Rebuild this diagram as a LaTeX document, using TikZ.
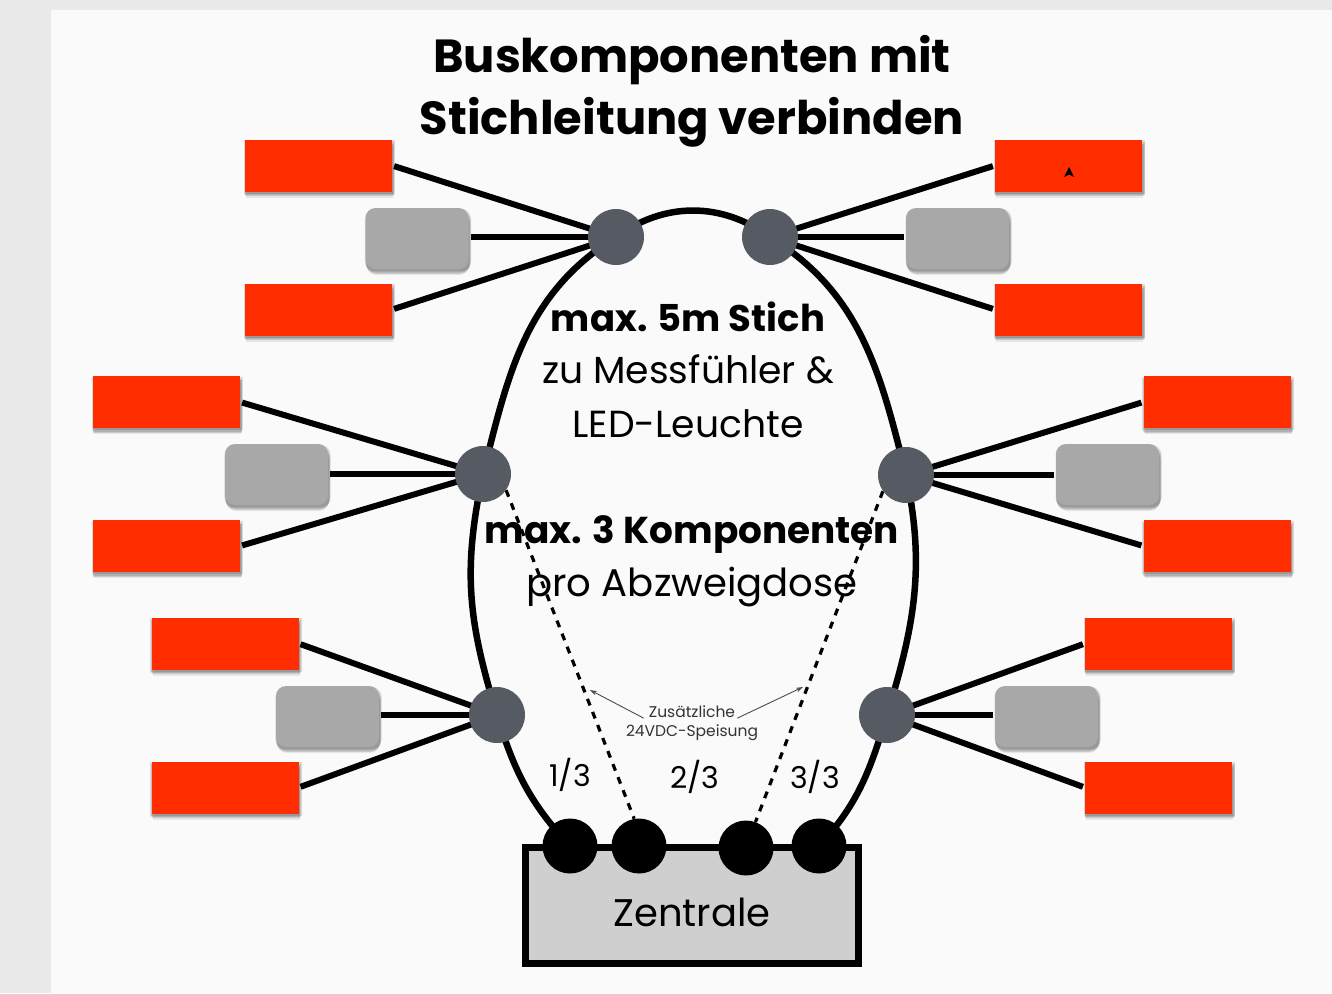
\documentclass[tikz,border=0pt]{standalone}
\usepackage{fontspec}
\setmainfont{Poppins}
\usetikzlibrary{shadows,arrows.meta,backgrounds}
\definecolor{redbox}{HTML}{FF2D00}
\definecolor{greybox}{HTML}{A8A8A8}
\definecolor{hubcol}{HTML}{565A63}
\definecolor{panel}{HTML}{FAFAFA}
\definecolor{outer}{HTML}{E9E9E9}
\definecolor{zent}{HTML}{CFCFCF}
\newcommand{\fs}[1]{\fontsize{#1}{#1}\selectfont}
\tikzset{
  x=1pt,y=-1pt,
  shade1/.style={
    drop shadow={shadow xshift=1pt,shadow yshift=-1.5pt,opacity=.12,fill=black,shadow scale=1.03},
    drop shadow={shadow xshift=1pt,shadow yshift=-3pt,opacity=.12,fill=black,shadow scale=1.02},
    drop shadow={shadow xshift=1pt,shadow yshift=-4.5pt,opacity=.12,fill=black,shadow scale=1.01},
    drop shadow={shadow xshift=1pt,shadow yshift=-6pt,opacity=.08,fill=black,shadow scale=1.0}},
  redb/.style={fill=redbox,minimum width=147pt,minimum height=52pt,inner sep=0,shade1},
  greyb/.style={fill=greybox,rounded corners=10pt,minimum width=103pt,minimum height=61pt,inner sep=0,shade1},
  hub/.style={circle,fill=hubcol,minimum size=56pt,inner sep=0},
  port/.style={circle,fill=black,minimum size=55pt,inner sep=0},
  stub/.style={line width=6pt,shorten >=2pt},
  bus/.style={line width=6.5pt},
  extra/.style={line width=3.2pt,dash pattern=on 7pt off 7pt},
  note/.style={line width=.9pt,draw=black!70,-{Stealth[length=7pt,width=4.5pt]}},
  txt/.style={inner sep=0,text=black,align=center},
}
\begin{document}
\begin{tikzpicture}
\useasboundingbox (0,0) rectangle (1332,993);

\node[redb] (r1) at (318.5,165.5) {};
\node[greyb] (g1) at (417,238.5) {};
\node[redb] (r2) at (318.5,309.5) {};
\node[redb] (r3) at (166.5,402) {};
\node[greyb] (g2) at (276.5,474.5) {};
\node[redb] (r4) at (166.5,546) {};
\node[redb] (r5) at (225,643.5) {};
\node[greyb] (g3) at (327.5,716.5) {};
\node[redb] (r6) at (225,787.5) {};
\node[redb] (r7) at (1068.5,165.5) {};
\node[greyb] (g4) at (957.5,238.5) {};
\node[redb] (r8) at (1068.5,309.5) {};
\node[redb] (r9) at (1217,402) {};
\node[greyb] (g5) at (1107.5,474.5) {};
\node[redb] (r10) at (1217,546) {};
\node[redb] (r11) at (1158.5,643.5) {};
\node[greyb] (g6) at (1046.5,716.5) {};
\node[redb] (r12) at (1158.5,787.5) {};

\node[draw=black,line width=6.5pt,fill=zent,minimum width=333pt,minimum height=116pt,inner sep=0] (zb) at (692,905.5) {};

\node[hub] (H1) at (616,237) {};
\node[hub] (H2) at (483,474) {};
\node[hub] (H3) at (497,715) {};
\node[hub] (H4) at (770,237) {};
\node[hub] (H5) at (906,475) {};
\node[hub] (H6) at (887,715) {};
\node[port] (P1) at (570,846) {};
\node[port] (P2) at (639,846) {};
\node[port] (P3) at (746,848) {};
\node[port] (P4) at (819,846) {};

\begin{pgfonlayer}{background}
\fill[outer] (0,0) rectangle (1332,993);
\fill[panel] (51,10) rectangle (1332,993);
\draw[bus] (P1.center) to[out=133,in=-73] (H3.center) to[out=107,in=-102,looseness=1.05] (H2.center)
  to[out=76,in=-148] (H1.center) to[out=36,in=144] (H4.center) to[out=-32,in=104] (H5.center)
  to[out=-78,in=73] (H6.center) to[out=-107,in=47] (P4.center);
\draw[extra] (H2.-35) -- (P2.100);
\draw[extra] (H5.-145) -- (P3.70);
\foreach \h/\a/\b/\c in {H1/r1.east/g1.east/r2.east,H2/r3.east/g2.east/r4.east,H3/r5.east/g3.east/r6.east,
                         H4/r7.west/g4.west/r8.west,H5/r9.west/g5.west/r10.west,H6/r11.west/g6.west/r12.west}{
  \draw[stub] (\h.center) -- (\a);
  \draw[stub] (\h.center) -- (\h.center -| \b);
  \draw[stub] (\h.center) -- (\c);
}
\end{pgfonlayer}

\node[txt,font=\fs{46.4}\bfseries] (t1) at (692,60) {Buskomponenten mit};
\node[txt,font=\fs{46.4}\bfseries] (t2) at (692,122.5) {Stichleitung verbinden};
\node[txt,font=\fs{37}\bfseries] (a1) at (688,317) {max. 5m Stich};
\node[txt,font=\fs{37.7}] (a2) at (688,369) {zu Messfühler \&};
\node[txt,font=\fs{37.7}] (a3) at (688,424) {LED-Leuchte};
\node[txt,font=\fs{37.4}\bfseries] (b1) at (692,534) {max. 3 Komponenten};
\node[txt,font=\fs{38.6}] (b2) at (692,587) {pro Abzweigdose};
\node[txt,font=\fs{38.5}] (z) at (692,912) {Zentrale};
\node[txt,font=\fs{30}] (f1) at (570,775) {1/3};
\node[txt,font=\fs{30}] (f2) at (695,777) {2/3};
\node[txt,font=\fs{30}] (f3) at (815,777) {3/3};
\node[txt,font=\fs{15.5},text=black!80] (n1) at (692,712) {Zusätzliche};
\node[txt,font=\fs{15.5},text=black!80] (n2) at (692,733) {24VDC-Speisung};
\coordinate (na) at (590,690);
\coordinate (nb) at (803,687);
\draw[note] ([xshift=-5pt]n1.south west) -- (na);
\draw[note] ([xshift=2pt]n1.south east) -- (nb);

\fill[black] (1069,167) -- (1074,177) -- (1069,174.5) -- (1064,177) -- cycle;
\end{tikzpicture}
\end{document}
